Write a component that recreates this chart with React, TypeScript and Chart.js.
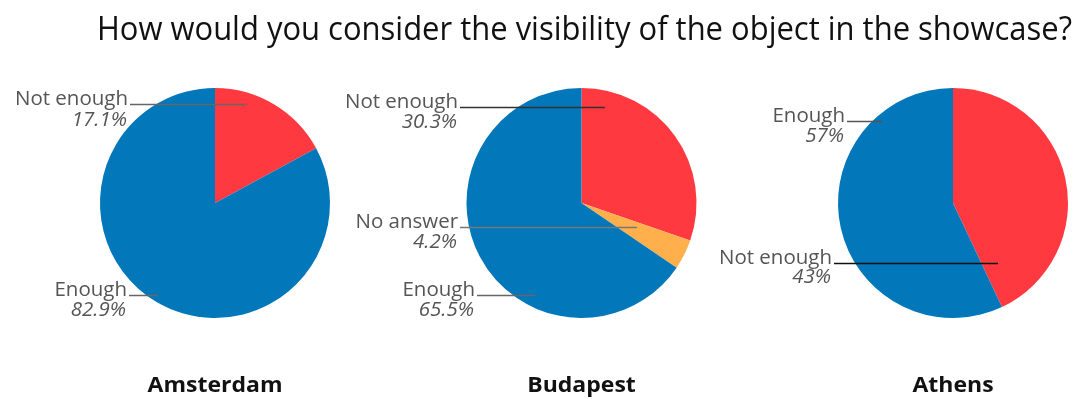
import React, { useEffect, useRef } from "react";
import { Chart, registerables } from "chart.js";

Chart.register(...registerables);

// ---------- data ----------
const TITLE = "How would you consider the visibility of the object in the showcase?";
const cities = ["Amsterdam", "Budapest", "Athens"];

const amsterdamLabels = ["Not enough", "Enough"];
const amsterdamValues = [17.1, 82.9];

const budapestLabels = ["Not enough", "No answer", "Enough"];
const budapestValues = [30.3, 4.2, 65.5];

const athensLabels = ["Not enough", "Enough"];
const athensValues = [43, 57];

// ---------- styles / layout ----------
const W = 1077;
const H = 399;
const PIE_CX = [215, 581.5, 953];
const PIE_CY = 203;
const PIE_R = 115;

const COLORS: Record<string, string> = {
  "Not enough": "#FF393F",
  "No answer": "#FFAF4B",
  Enough: "#0277BA",
};

const FONT = "'Open Sans', 'Noto Sans', sans-serif";
const TEXT_GRAY = "#555555";

type Callout = { textDx: number; baseDy: number; pctDy: number; lineEndDx: number; lineColor: string };

// offsets relative to each pie centre
const callouts: Record<string, Callout>[] = [
  {
    "Not enough": { textDx: -87, baseDy: -98, pctDy: -77, lineEndDx: 31, lineColor: "#666666" },
    Enough: { textDx: -88, baseDy: 93, pctDy: 113, lineEndDx: -57, lineColor: "#666666" },
  },
  {
    "Not enough": { textDx: -123.5, baseDy: -95, pctDy: -75, lineEndDx: 23.5, lineColor: "#333333" },
    "No answer": { textDx: -123.5, baseDy: 25, pctDy: 45, lineEndDx: 55.5, lineColor: "#777777" },
    Enough: { textDx: -106.5, baseDy: 93, pctDy: 113, lineEndDx: -46.5, lineColor: "#666666" },
  },
  {
    Enough: { textDx: -108, baseDy: -81, pctDy: -61, lineEndDx: -71, lineColor: "#555555" },
    "Not enough": { textDx: -121, baseDy: 61, pctDy: 80, lineEndDx: 45, lineColor: "#111111" },
  },
];

const datasets = [
  { labels: amsterdamLabels, values: amsterdamValues },
  { labels: budapestLabels, values: budapestValues },
  { labels: athensLabels, values: athensValues },
];

// draw text at a given font size, horizontally squeezed to a target width
function drawFitted(
  ctx: CanvasRenderingContext2D,
  text: string,
  style: string,
  size: number,
  x: number,
  y: number,
  targetW: number,
  align: "left" | "right" | "center"
) {
  ctx.font = `${style} ${size}px ${FONT}`;
  const w = ctx.measureText(text).width;
  const sx = targetW / w;
  ctx.save();
  ctx.translate(x, y);
  ctx.scale(sx, 1);
  ctx.textAlign = align;
  ctx.fillText(text, 0, 0);
  ctx.restore();
}

function makePlugin(idx: number) {
  return {
    id: "callouts" + idx,
    afterDraw(chart: any) {
      const ctx: CanvasRenderingContext2D = chart.ctx;
      const arc = chart.getDatasetMeta(0).data[0];
      const cx = arc.x;
      const cy = arc.y;
      const labels: string[] = chart.data.labels;
      const values: number[] = chart.data.datasets[0].data;
      ctx.save();
      ctx.textBaseline = "alphabetic";
      ctx.font = `normal 20px ${FONT}`;
      const labelScale = 113 / ctx.measureText("Not enough").width;
      labels.forEach((lab, i) => {
        const c = callouts[idx][lab];
        if (!c) return;
        const tx = cx + c.textDx;
        const by = cy + c.baseDy;
        ctx.fillStyle = TEXT_GRAY;
        ctx.font = `normal 20px ${FONT}`;
        const lw = ctx.measureText(lab).width * labelScale;
        drawFitted(ctx, lab, "normal", 20, tx, by, lw, "right");
        const pct = `${values[i]}%`;
        ctx.font = `italic 20px ${FONT}`;
        const pw = ctx.measureText(pct).width * labelScale;
        drawFitted(ctx, pct, "italic", 20, tx - 1, cy + c.pctDy, pw, "right");
        ctx.strokeStyle = c.lineColor;
        ctx.lineWidth = 1.5;
        ctx.beginPath();
        ctx.moveTo(tx + 2, by - 0.5);
        ctx.lineTo(cx + c.lineEndDx, by - 0.5);
        ctx.stroke();
      });
      // city name
      ctx.fillStyle = "#111111";
      ctx.font = `bold 22px ${FONT}`;
      const cityScale = 135 / ctx.measureText("Amsterdam").width;
      const cw = ctx.measureText(cities[idx]).width * cityScale;
      drawFitted(ctx, cities[idx], "bold", 22, cx, 392, cw, "center");
      // title on first chart
      if (idx === 0) {
        ctx.fillStyle = "#111111";
        drawFitted(ctx, TITLE, "normal", 32, 97, 40, 975, "left");
      }
      ctx.restore();
    },
  };
}

function PieCanvas({ idx }: { idx: number }) {
  const ref = useRef<HTMLCanvasElement | null>(null);
  useEffect(() => {
    if (!ref.current) return;
    const d = datasets[idx];
    const cx = PIE_CX[idx];
    const chart = new Chart(ref.current, {
      type: "pie",
      data: {
        labels: d.labels,
        datasets: [
          {
            data: d.values,
            backgroundColor: d.labels.map((l) => COLORS[l]),
            borderWidth: 0,
          },
        ],
      },
      options: {
        responsive: false,
        maintainAspectRatio: false,
        animation: false,
        devicePixelRatio: 1,
        layout: {
          padding: {
            left: cx - PIE_R,
            right: W - cx - PIE_R,
            top: PIE_CY - PIE_R,
            bottom: H - PIE_CY - PIE_R,
          },
        },
        plugins: {
          legend: { display: false },
          tooltip: { enabled: false },
          title: { display: false },
        },
      },
      plugins: [makePlugin(idx)],
    } as any);
    return () => chart.destroy();
  }, [idx]);
  return (
    <canvas
      ref={ref}
      width={W}
      height={H}
      style={{ position: "absolute", left: 0, top: 0, width: W, height: H }}
    />
  );
}

export default function App() {
  return (
    <div style={{ position: "fixed", left: 0, top: 0, width: W, height: H, background: "#ffffff" }}>
      <PieCanvas idx={0} />
      <PieCanvas idx={1} />
      <PieCanvas idx={2} />
    </div>
  );
}
